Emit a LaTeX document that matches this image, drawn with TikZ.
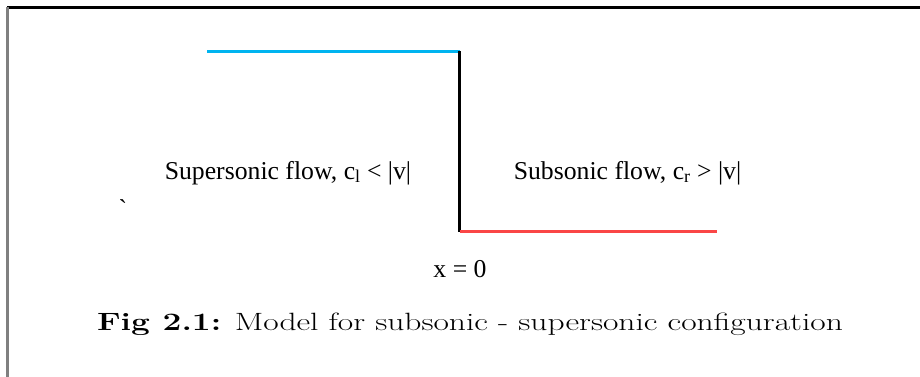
\documentclass[tikz,border=0pt]{standalone}
\usepackage{fontspec}
\usepackage{graphicx}
\newfontfamily\tms{Liberation Serif}
\definecolor{lineblue}{RGB}{0,180,240}
\definecolor{linered}{RGB}{250,70,70}
\definecolor{framegray}{RGB}{128,128,128}
\begin{document}
\begin{tikzpicture}[x=1pt,y=-1pt,
  lbl/.style={inner sep=0pt,anchor=base,font=\tms\fontsize{25.7}{28}\selectfont},
  captext/.style={inner sep=0pt,anchor=base,font=\fontsize{25}{30}\selectfont},
  flowline/.style={line width=2.2pt}]
\useasboundingbox (0,0) rectangle (920,377);
\fill[white] (0,0) rectangle (920,377);
% frame
\draw[black,line width=2.2pt] (7,7.5) -- (920,7.5);
\draw[framegray,line width=2.2pt] (7.5,7) -- (7.5,377);
% coordinates
\coordinate (b0) at (207,51.5);
\coordinate (b1) at (459.5,51.5);
\coordinate (r0) at (459.5,231.5);
\coordinate (r1) at (717,231.5);
\draw[lineblue,flowline] (b0) -- (b1);
\draw[black,flowline] (b1) -- (r0);
\draw[linered,flowline] (r0) -- (r1);
% labels
\node[lbl] (sup) at (288,179) {Supersonic flow, c\textsubscript{l} < |v|};
\node[lbl] (sub) at (627.5,179) {Subsonic flow, c\textsubscript{r} > |v|};
\node[lbl] (tick) at (123,217) {`};
\node[lbl] (x0) at (460,277) {x = 0};
\node[captext] (caption) at (470,330) {\scalebox{1.34}[1]{\textbf{Fig 2.1:} Model for subsonic - supersonic configuration}};
\end{tikzpicture}
\end{document}
